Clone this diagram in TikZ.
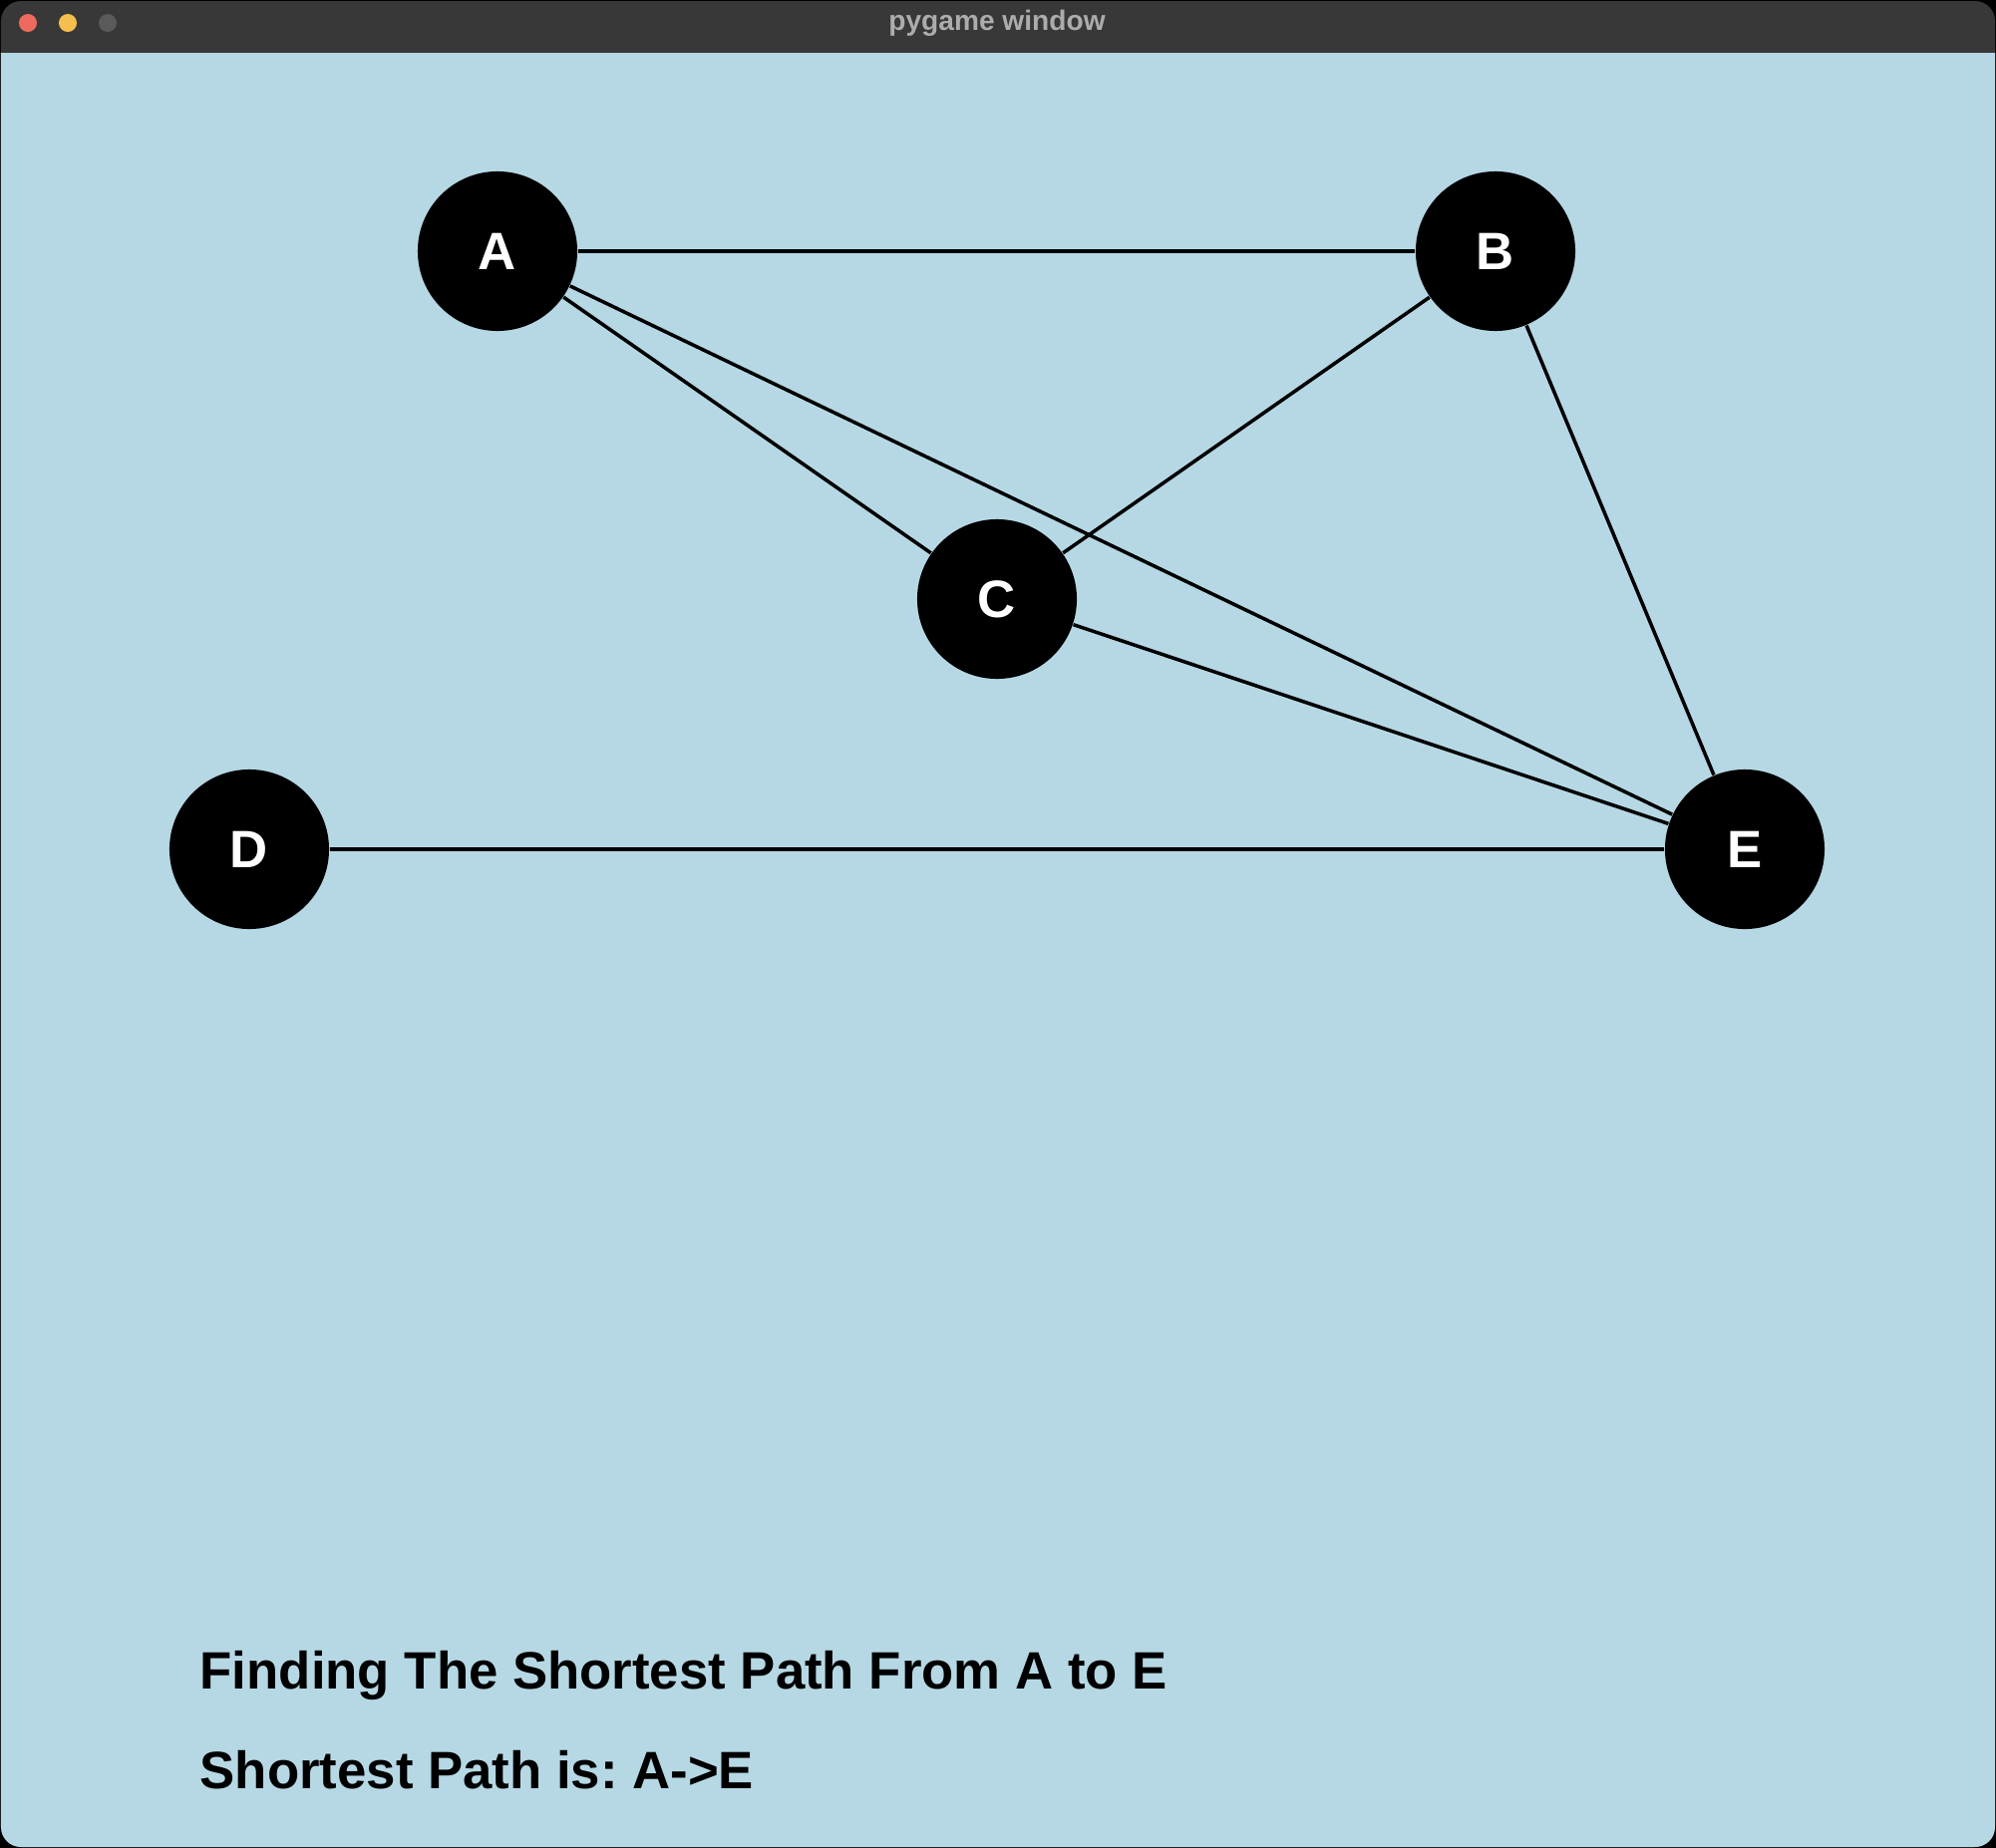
\documentclass[tikz,border=0pt]{standalone}
\usepackage{fontspec}
\setmainfont{Liberation Sans}
\definecolor{paneblue}{RGB}{182,216,228}
\definecolor{bargray}{RGB}{56,56,56}
\definecolor{titlegray}{RGB}{172,172,172}
\definecolor{closered}{RGB}{237,106,94}
\definecolor{minyellow}{RGB}{245,191,79}
\definecolor{zoomgray}{RGB}{90,90,90}
\frenchspacing

\begin{document}
\begin{tikzpicture}[x=0.01cm,y=-0.01cm,
    vertex/.style={circle, fill=black, minimum size=1.6cm, inner sep=0pt,
        text=white, font=\fontsize{15}{18}\selectfont\bfseries},
    edge/.style={line width=1pt},
    caption/.style={anchor=base west, inner sep=0pt,
        font=\fontsize{15}{18}\selectfont\bfseries}]% Window:

\useasboundingbox (0,0) rectangle (2002,1854);
\fill[black] (0,0) rectangle (2002,1854);
\fill[bargray, rounded corners=0.2cm] (1,1) rectangle (2001,1853);
\fill[paneblue] (1,53) -- (2001,53) {[rounded corners=0.2cm] -- (2001,1853) -- (1,1853)} -- cycle;
\fill[closered] (28,23) circle (0.09cm);
\fill[minyellow] (68,23) circle (0.09cm);
\fill[zoomgray] (108,23) circle (0.09cm);
\node[text=titlegray, font=\fontsize{8}{10}\selectfont\bfseries] (title) at (1000,23) {pygame window};

\node[vertex] (A) at (499,252) {A};
\node[vertex] (B) at (1500,252) {B};
\node[vertex] (C) at (1000,601) {C};
\node[vertex] (D) at (250,852) {D};
\node[vertex] (E) at (1750,852) {E};
\foreach \u/\v in {A/B, A/C, A/E, B/C, B/E, C/E, D/E}
    \draw[edge] (\u) -- (\v);

\node[caption] (find) at (200,1694) {Finding The Shortest Path From A to E};
\node[caption] (result) at (200,1794) {Shortest Path is: A->E};

\end{tikzpicture}
\end{document}
